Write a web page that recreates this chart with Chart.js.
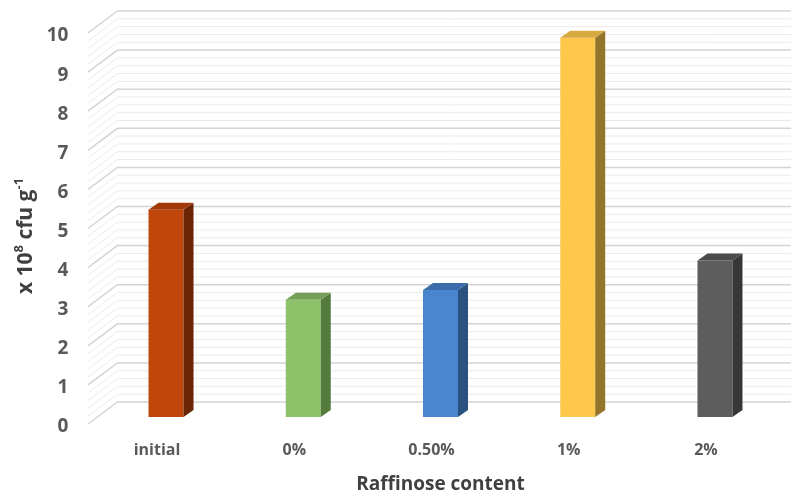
<!DOCTYPE html>
<html>
<head>
<meta charset="utf-8">
<script src="https://cdn.jsdelivr.net/npm/chart.js@4/dist/chart.umd.min.js"></script>
<style>
html,body{margin:0;padding:0;background:#fff;}
#wrap{width:791px;height:496px;}
</style>
</head>
<body>
<div id="wrap"><canvas id="c" width="791" height="496"></canvas></div>
<script>
const categories = ["initial", "0%", "0.50%", "1%", "2%"];
const values = [5.3, 3.0, 3.25, 9.7, 4.0];
const frontColors = ["#C0460C", "#8DC26B", "#4A86CE", "#FEC84B", "#5D5D5D"];
const sideColors  = ["#6A2604", "#557A3E", "#2A527F", "#937629", "#373737"];
const topColors   = ["#A23A09", "#759F57", "#3C6DAA", "#D7A93F", "#4B4B4B"];
const yTicks = [0,1,2,3,4,5,6,7,8,9,10];
const xTitle = "Raffinose content";

const DX = 10, DY = -7;      // bar depth
const WALL_DX = 20, WALL_DY = -15, FRONT_DX = -9.4, FRONT_DY = 7;

const threeD = {
  id: 'threeD',
  beforeDatasetsDraw(chart) {
    const {ctx, chartArea: a, scales: {y}} = chart;
    ctx.save();
    for (let v = 0; v < 10; v += 0.2) {
      if (Math.abs(v - Math.round(v)) < 1e-6) continue;
      const py = y.getPixelForValue(v);
      ctx.strokeStyle = '#EBEBEB'; ctx.lineWidth = 1;
      ctx.beginPath();
      ctx.moveTo(a.left + FRONT_DX, py + FRONT_DY);
      ctx.lineTo(a.left + WALL_DX, py + WALL_DY);
      ctx.lineTo(chart.width, py + WALL_DY);
      ctx.stroke();
    }
    yTicks.forEach(v => {
      const py = y.getPixelForValue(v);
      ctx.strokeStyle = '#D4D4D4'; ctx.lineWidth = 1.5;
      ctx.beginPath();
      ctx.moveTo(a.left + FRONT_DX, py + FRONT_DY);
      ctx.lineTo(a.left + WALL_DX, py + WALL_DY);
      ctx.lineTo(chart.width, py + WALL_DY);
      ctx.stroke();
    });
    ctx.restore();
  },
  afterDatasetsDraw(chart) {
    const {ctx} = chart;
    const meta = chart.getDatasetMeta(0);
    ctx.save();
    meta.data.forEach((bar, i) => {
      const {x, y, base, width} = bar.getProps(['x','y','base','width'], true);
      const l = x - width/2, r = x + width/2;
      ctx.fillStyle = sideColors[i];
      ctx.beginPath();
      ctx.moveTo(r, y); ctx.lineTo(r + DX, y + DY); ctx.lineTo(r + DX, base + DY); ctx.lineTo(r, base);
      ctx.closePath(); ctx.fill();
      ctx.fillStyle = topColors[i];
      ctx.beginPath();
      ctx.moveTo(l, y); ctx.lineTo(l + DX, y + DY); ctx.lineTo(r + DX, y + DY); ctx.lineTo(r, y);
      ctx.closePath(); ctx.fill();
    });
    ctx.restore();
  },
  afterDraw(chart) {
    const {ctx} = chart;
    ctx.save();
    ctx.translate(26, 236);
    ctx.rotate(-Math.PI/2);
    ctx.fillStyle = '#404040';
    ctx.textBaseline = 'middle';
    const big = 'bold 21px "Open Sans"', small = 'bold 13px "Open Sans"';
    const parts = [["x 10", big, 0], ["8", small, -7], [" cfu g", big, 0], ["-1", small, -7]];
    let total = 0;
    parts.forEach(p => { ctx.font = p[1]; total += ctx.measureText(p[0]).width; });
    let cx = -total/2;
    parts.forEach(p => { ctx.font = p[1]; ctx.fillText(p[0], cx, p[2]); cx += ctx.measureText(p[0]).width; });
    ctx.restore();
  }
};

new Chart(document.getElementById('c'), {
  type: 'bar',
  data: {
    labels: categories,
    datasets: [{
      data: values,
      backgroundColor: frontColors,
      borderWidth: 0,
      barPercentage: 0.255,
      categoryPercentage: 1
    }]
  },
  options: {
    responsive: false,
    animation: false,
    layout: { padding: { top: 26, right: 7.4, left: 0, bottom: 0 } },
    plugins: { legend: { display: false }, tooltip: { enabled: false } },
    scales: {
      x: {
        grid: { display: false, drawTicks: false },
        border: { display: false },
        ticks: { color: '#595959', font: { family: 'Open Sans', weight: 'bold', size: 16 }, padding: 24, labelOffset: -9 },
        title: { display: true, text: xTitle, color: '#404040', font: { family: 'Open Sans', weight: 'bold', size: 19 }, padding: { top: 0, bottom: 0 } },
        afterFit(s) { s.height = 79; s.paddingLeft = 0; s.paddingRight = 0; }
      },
      y: {
        min: 0, max: 10,
        grid: { display: false, drawTicks: false },
        border: { display: false },
        ticks: { stepSize: 1, color: '#595959', font: { family: 'Open Sans', weight: 'bold', size: 19 }, padding: 29, labelOffset: 10 },
        afterFit(s) { s.width = 97.4; s.paddingTop = 0; s.paddingBottom = 0; }
      }
    }
  },
  plugins: [threeD]
});
</script>
</body>
</html>
